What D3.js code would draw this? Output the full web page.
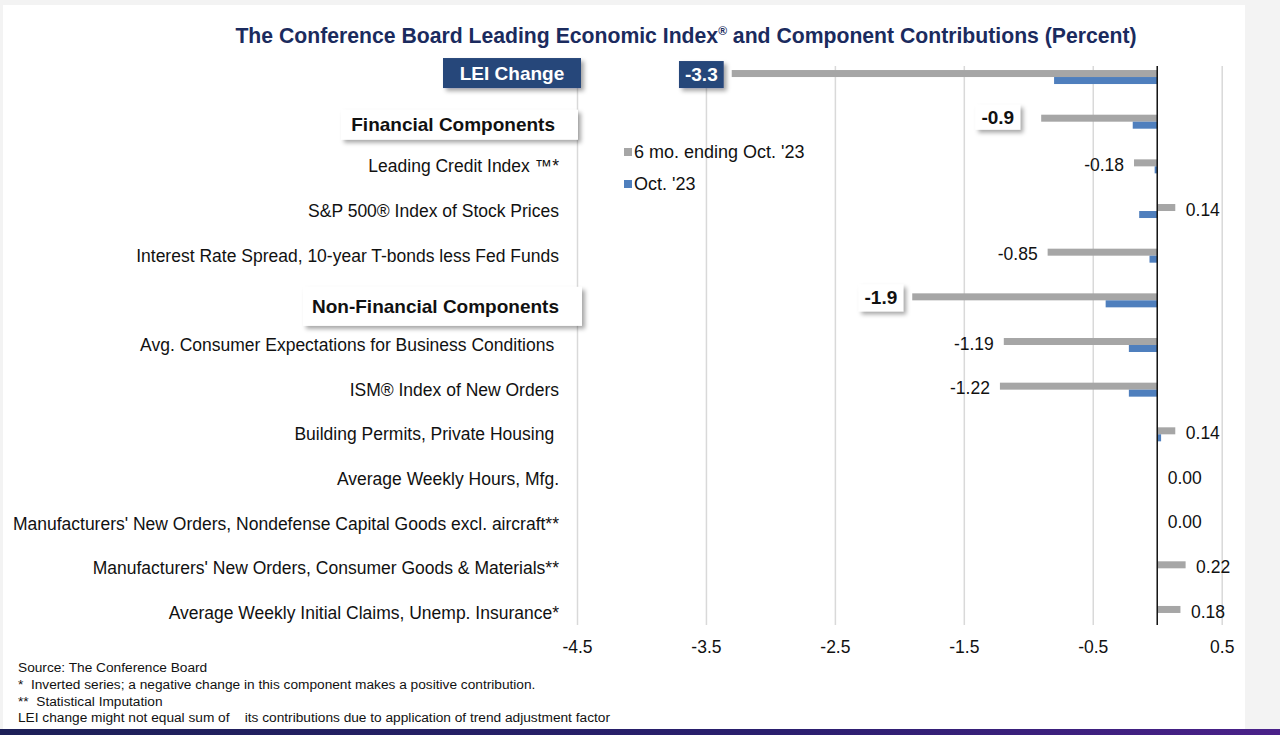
<!DOCTYPE html>
<html><head><meta charset="utf-8">
<script src="https://cdn.jsdelivr.net/npm/d3@7/dist/d3.min.js"></script>
<style>
html,body{margin:0;padding:0;background:#f3f3f3;}
svg{display:block;font-family:"Liberation Sans",Arial,sans-serif;}
text{white-space:pre;}
</style></head>
<body><svg id="c" width="1280" height="735"></svg>
<script>
const categories = [
  "LEI Change",
  "Financial Components",
  "Leading Credit Index \u2122*",
  "S&P 500\u00ae Index of Stock Prices",
  "Interest Rate Spread, 10-year T-bonds less Fed Funds",
  "Non-Financial Components",
  "Avg. Consumer Expectations for Business Conditions ",
  "ISM\u00ae Index of New Orders",
  "Building Permits, Private Housing ",
  "Average Weekly Hours, Mfg.",
  "Manufacturers' New Orders, Nondefense Capital Goods excl. aircraft**",
  "Manufacturers' New Orders, Consumer Goods & Materials**",
  "Average Weekly Initial Claims, Unemp. Insurance*"
];
const sixMonth = [-3.3, -0.9, -0.18, 0.14, -0.85, -1.9, -1.19, -1.22, 0.14, 0.00, 0.00, 0.22, 0.18];
const october  = [-0.80, -0.19, -0.02, -0.14, -0.06, -0.40, -0.22, -0.22, 0.03, 0.00, 0.00, 0.00, 0.00];
const sixMonthLabels = ["-3.3","-0.9","-0.18","0.14","-0.85","-1.9","-1.19","-1.22","0.14","0.00","0.00","0.22","0.18"];
const headerRows = [0, 1, 5];
const tickValues = [-4.5, -3.5, -2.5, -1.5, -0.5, 0.5];
const seriesNames = ["6 mo. ending Oct. '23", "Oct. '23"];
const title = "The Conference Board Leading Economic Index";
const titleTail = " and Component Contributions (Percent)";
const footnotes = [
  "Source: The Conference Board",
  "*  Inverted series; a negative change in this component makes a positive contribution.",
  "**  Statistical Imputation",
  "LEI change might not equal sum of    its contributions due to application of trend adjustment factor"
];

const GRAY = "#a6a6a6", BLUE = "#4f7fbd", NAVY = "#27467a", TITLE = "#1b2b5e";
const svg = d3.select("#c");
const defs = svg.append("defs");
const f = defs.append("filter").attr("id","sh").attr("x","-20%").attr("y","-30%").attr("width","150%").attr("height","170%");
f.append("feDropShadow").attr("dx",3).attr("dy",3).attr("stdDeviation",2).attr("flood-color","#000").attr("flood-opacity",0.35);
const g1 = defs.append("linearGradient").attr("id","strip");
g1.append("stop").attr("offset","0").attr("stop-color","#1d2058");
g1.append("stop").attr("offset","0.6").attr("stop-color","#2a1f6e");
g1.append("stop").attr("offset","1").attr("stop-color","#4a2189");

// panel
svg.append("rect").attr("x",3).attr("y",5).attr("width",1242).attr("height",724).attr("fill","#fff");
svg.append("rect").attr("x",0).attr("y",729).attr("width",1280).attr("height",6).attr("fill","url(#strip)");

const x = d3.scaleLinear().domain([-4.5, 0.5]).range([577, 1221.7]);
const y = d3.scaleBand().domain(categories).range([54.7, 635.3]);
const bw = y.bandwidth();
const cy = i => y(categories[i]) + bw/2;
const barH = 7;

// gridlines
svg.append("g").attr("transform","translate(0,625)")
  .call(d3.axisBottom(x).tickValues(tickValues).tickSize(-559).tickFormat(""))
  .call(g => g.select(".domain").remove())
  .call(g => g.selectAll(".tick line").attr("stroke","#d9d9d9").attr("stroke-width",1.5));

// tick labels
svg.append("g").attr("transform","translate(0,638)")
  .call(d3.axisBottom(x).tickValues(tickValues).tickSize(0).tickFormat(d => d.toFixed(1)))
  .call(g => g.select(".domain").remove())
  .call(g => g.selectAll("text").attr("font-size",17.5).attr("fill","#111").attr("font-family","Liberation Sans, Arial, sans-serif"));

// title
const t = svg.append("text").attr("x",686).attr("y",43).attr("text-anchor","middle")
  .attr("font-size",21.2).attr("font-weight","bold").attr("fill",TITLE);
t.append("tspan").text(title);
t.append("tspan").attr("font-size",12).attr("dy",-8).text("\u00ae");
t.append("tspan").attr("dy",8).text(titleTail);

// bars
const rows = categories.map((c,i)=>({c,i,s:sixMonth[i],o:october[i]}));
svg.append("g").selectAll("rect").data(rows).join("rect")
  .attr("x", d=>x(Math.min(0,d.s))).attr("width", d=>Math.abs(x(d.s)-x(0)))
  .attr("y", d=>cy(d.i)-barH).attr("height", barH).attr("fill", GRAY);
svg.append("g").selectAll("rect").data(rows).join("rect")
  .attr("x", d=>x(Math.min(0,d.o))).attr("width", d=>Math.abs(x(d.o)-x(0)))
  .attr("y", d=>cy(d.i)).attr("height", barH).attr("fill", BLUE);

// zero line
svg.append("line").attr("x1",x(0)).attr("x2",x(0)).attr("y1",66).attr("y2",625)
  .attr("stroke","#111").attr("stroke-width",1.5);

// category labels
rows.forEach(d=>{
  if (headerRows.includes(d.i)) return;
  svg.append("text").attr("x",559).attr("y",cy(d.i)).attr("dy","0.35em")
    .attr("text-anchor","end").attr("font-size",17.5).attr("fill","#111").text(d.c);
});

// header boxes on category side
function headerBox(i, dark, yOff, x0, x1, h){
  const gg = svg.append("g");
  gg.append("rect").attr("x", x0).attr("y", cy(i)+yOff-h/2).attr("width", x1-x0).attr("height", h)
    .attr("fill", dark? NAVY : "#fff").attr("filter","url(#sh)");
  gg.append("text").attr("x", dark? (x0+x1)/2 : x1-23).attr("y", cy(i)+yOff).attr("dy","0.35em")
    .attr("text-anchor", dark? "middle":"end").attr("font-size",19).attr("font-weight","bold")
    .attr("fill", dark? "#fff":"#111").text(categories[i]);
}
headerBox(0, true, -4, 443, 581, 30);
headerBox(1, false, 3, 341, 578, 30);
headerBox(5, false, 6, 303, 582, 39);

// value labels
const boxGap = {0: 8, 1: 21, 5: 9};
rows.forEach(d=>{
  const vy = cy(d.i) - barH/2;
  if (headerRows.includes(d.i)) {
    const dark = d.i===0;
    const gg = svg.append("g");
    const right = x(d.s) - boxGap[d.i];
    const tx = gg.append("text").attr("y", vy+ (d.i===0?1:(d.i===1?-1:1))).attr("dy","0.35em")
      .attr("text-anchor","middle").attr("font-size",19).attr("font-weight","bold")
      .attr("fill", dark? "#fff":"#111").text(sixMonthLabels[d.i]);
    const w = tx.node().getComputedTextLength() + 12;
    tx.attr("x", right - w/2);
    const h = d.i===1 ? 25 : 27;
    gg.insert("rect","text").attr("x", right-w).attr("y", vy - h/2 + (d.i===1? -1 : 1)).attr("width", w).attr("height", h)
      .attr("fill", dark? NAVY:"#fff").attr("filter","url(#sh)");
  } else {
    const neg = d.s < 0;
    svg.append("text").attr("x", neg ? x(d.s)-10 : x(Math.max(0,d.s))+10.5).attr("y", vy+2).attr("dy","0.35em")
      .attr("text-anchor", neg? "end":"start").attr("font-size",17.5).attr("fill","#111").text(sixMonthLabels[d.i]);
  }
});

// legend
const lg = svg.append("g");
[[GRAY,152],[BLUE,184]].forEach(([c,ly],k)=>{
  lg.append("rect").attr("x",624).attr("y",ly-4).attr("width",8).attr("height",8).attr("fill",c);
  lg.append("text").attr("x",634).attr("y",ly).attr("dy","0.35em").attr("font-size",18).attr("fill","#111").text(seriesNames[k]);
});

// footnotes
footnotes.forEach((s,k)=>{
  svg.append("text").attr("x",18).attr("y",[672,689,706,722][k]).attr("font-size",13.7).attr("fill","#111").text(s);
});
</script></body></html>
